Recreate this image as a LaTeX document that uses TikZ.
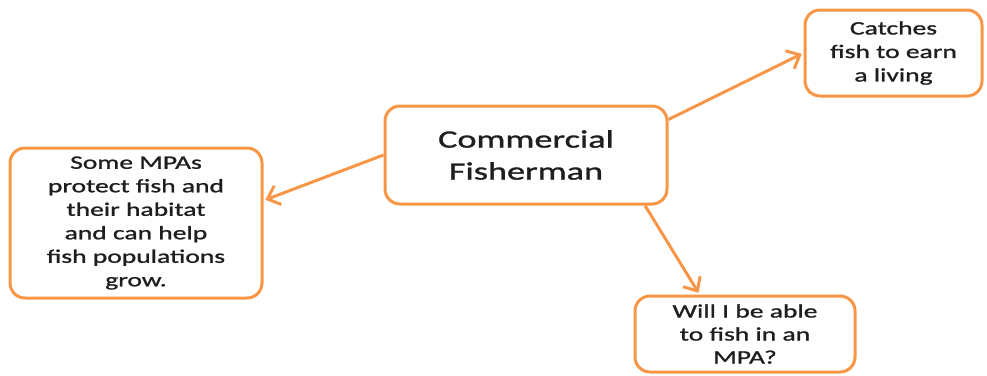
\documentclass[tikz,border=0pt]{standalone}
\usepackage{fontspec}
\setmainfont{Carlito}[FakeStretch=1.45,FakeBold=1.2]
\usetikzlibrary{arrows.meta}
\definecolor{orng}{HTML}{F79646}
\definecolor{txt}{HTML}{1E1E1E}
\tikzset{
  bubble/.style={draw=orng, line width=3pt, rounded corners=15pt, fill=white,
    align=center, text=txt, inner sep=0pt},
  link/.style={draw=orng, line width=3pt, -{Straight Barb[length=11pt,width=20pt,line width=3pt]}, shorten >=2pt}
}
\begin{document}
\begin{tikzpicture}[x=1pt,y=-1pt]
\useasboundingbox (0,0) rectangle (987,375);
\node[bubble, minimum width=282pt, minimum height=98pt,
  font=\fontsize{25pt}{32pt}\selectfont] (c) at (526,155) {Commercial\\Fisherman};
\node[bubble, minimum width=177pt, minimum height=86pt,
  font=\fontsize{19pt}{23.5pt}\selectfont] (tr) at (893.5,53) {Catches\\fish to earn\\a living};
\node[bubble, minimum width=252pt, minimum height=150pt,
  font=\fontsize{19pt}{23.5pt}\selectfont] (l) at (136,223) {Some MPAs\\protect fish and\\their habitat\\and can help\\fish populations\\grow.};
\node[bubble, minimum width=220pt, minimum height=76pt,
  font=\fontsize{19pt}{23pt}\selectfont] (b) at (745,334) {Will I be able\\to fish in an\\MPA?};
\draw[link] (c.14.3) -- (tr.west);
\draw[link] (c.west) -- (l.10);
\draw[link] (c.-23.8) -- (b.139.8);
\end{tikzpicture}
\end{document}
